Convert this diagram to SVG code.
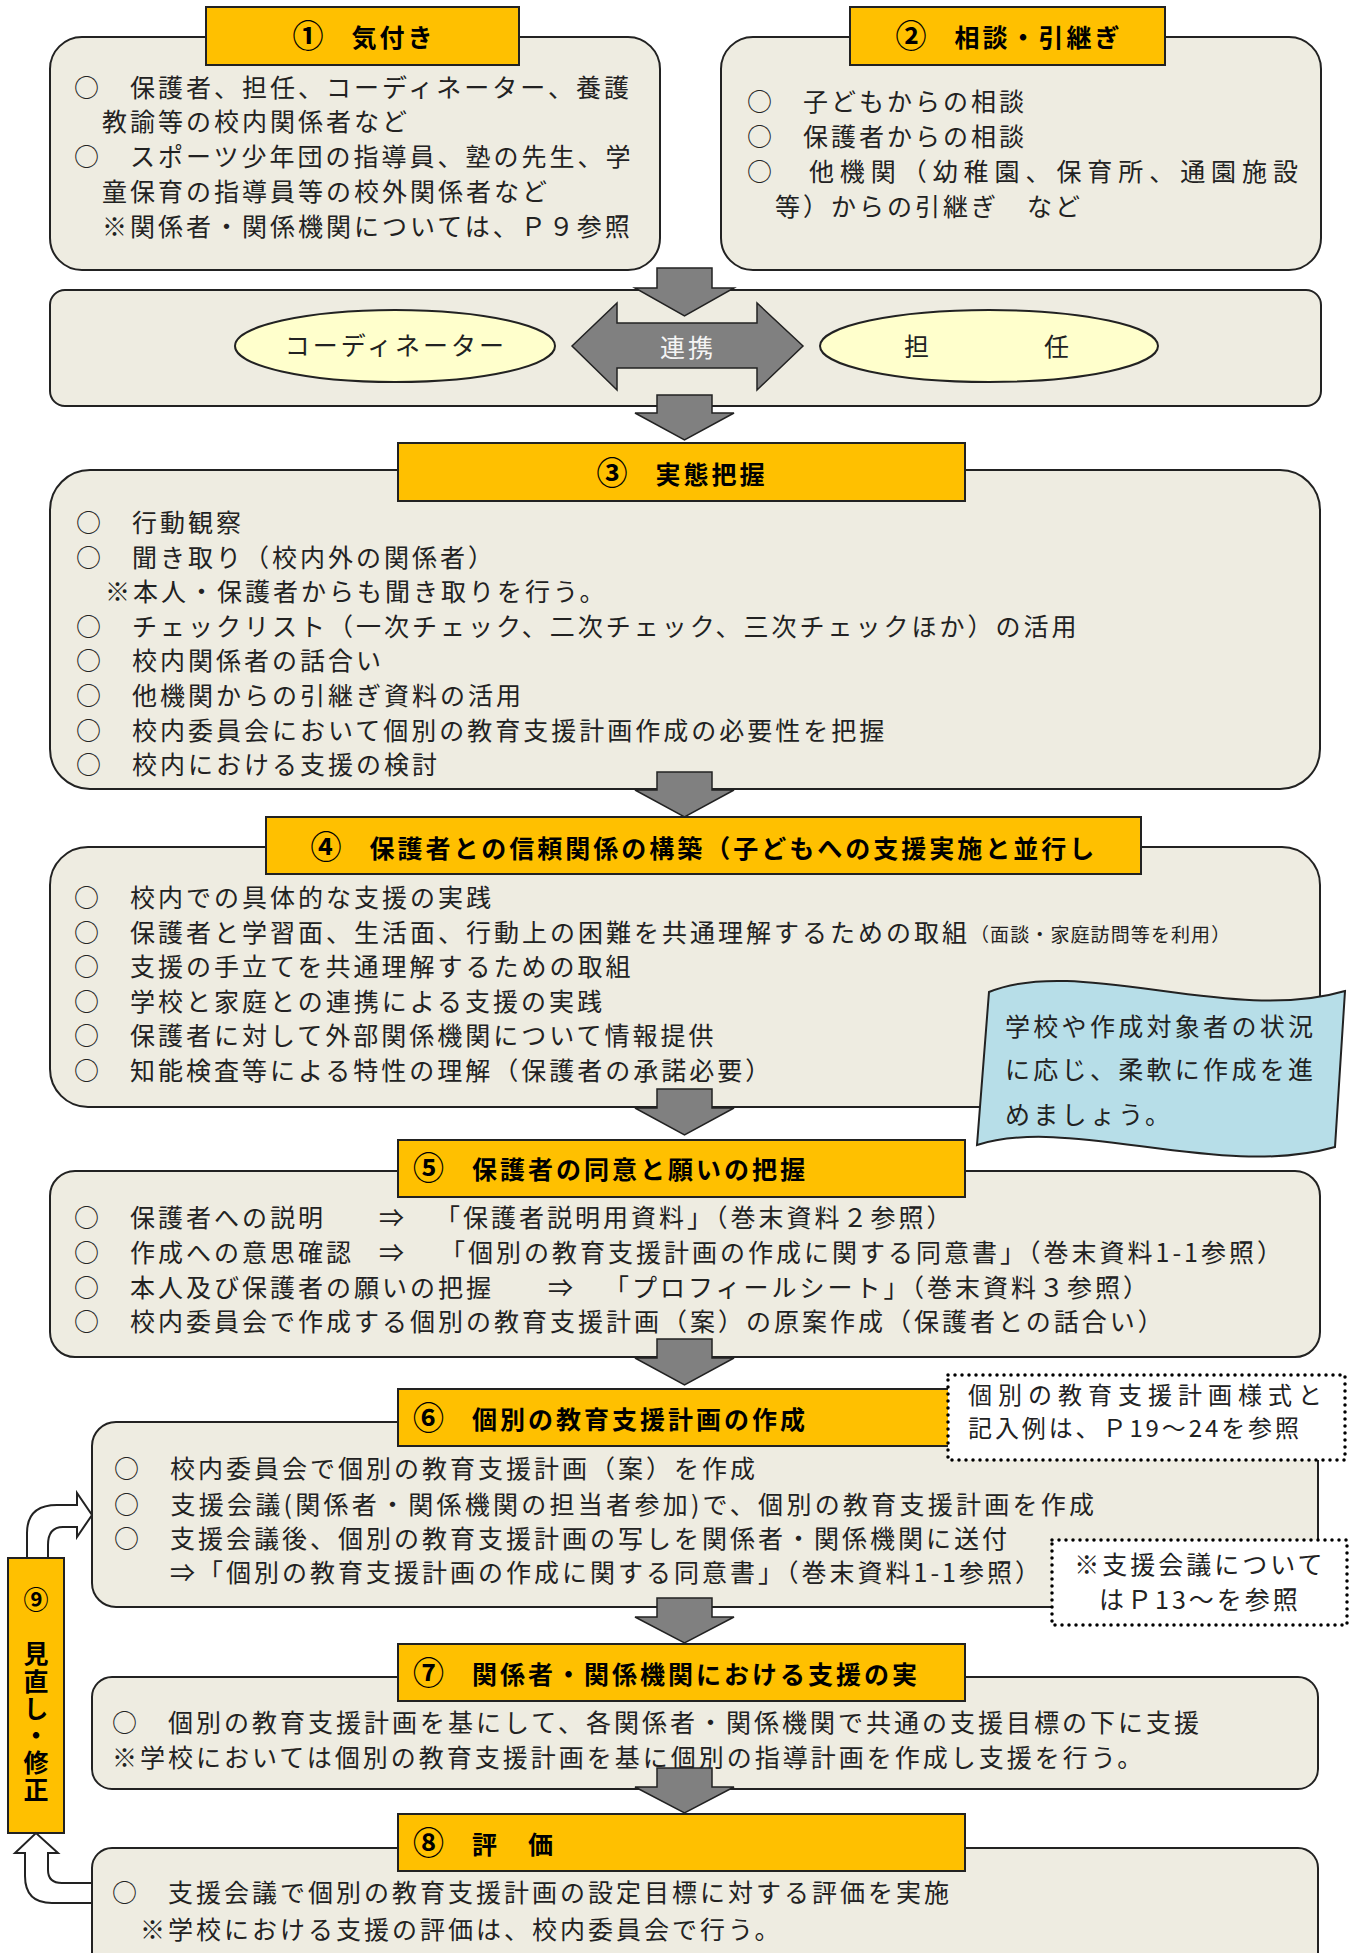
<svg xmlns="http://www.w3.org/2000/svg" width="1355" height="1953" viewBox="0 0 1355 1953">
<style>
.box{fill:#EEECE1;stroke:#222;stroke-width:2}
.title{fill:#FFC000;stroke:#222;stroke-width:2}
.t{font-family:"Noto Sans CJK JP","Noto Sans CJK SC",sans-serif;font-size:25px;letter-spacing:3px;fill:#222}
.s{font-size:19px;letter-spacing:1.1px}
.tt{font-family:"Noto Sans CJK JP","Noto Sans CJK SC",sans-serif;font-size:25px;letter-spacing:3px;font-weight:bold;fill:#000}
.n{font-size:31px;letter-spacing:0}
.mid{text-anchor:middle}
.ell{fill:#FFFFCC;stroke:#222;stroke-width:2}
.arrow{fill:#808080;stroke:#222;stroke-width:1.5}
.bent{fill:#fff;stroke:#222;stroke-width:2}
.dot{fill:#fff;stroke:#000;stroke-width:3.5;stroke-dasharray:0 7;stroke-linecap:round}
.wave{fill:#B7DEE8;stroke:#222;stroke-width:2}
</style>
<rect width="1355" height="1953" fill="#fff"/>

<g id="node-1">
<rect class="box" x="50" y="37" width="610" height="233" rx="32"/>
<rect class="title" x="206" y="7" width="313" height="58"/>
<text class="tt mid" x="364" y="47"><tspan class="n">①</tspan>　気付き</text>
<text class="t" x="74" y="97">○　保護者、担任、コーディネーター、養護</text>
<text class="t" x="102" y="131">教諭等の校内関係者など</text>
<text class="t" x="74" y="166">○　スポーツ少年団の指導員、塾の先生、学</text>
<text class="t" x="102" y="201">童保育の指導員等の校外関係者など</text>
<text class="t" x="102" y="236">※関係者・関係機関については、Ｐ９参照</text>
</g>

<g id="node-2">
<rect class="box" x="721" y="37" width="600" height="233" rx="32"/>
<rect class="title" x="850" y="7" width="315" height="58"/>
<text class="tt mid" x="1009" y="47"><tspan class="n">②</tspan>　相談・引継ぎ</text>
<text class="t" x="747" y="111">○　子どもからの相談</text>
<text class="t" x="747" y="146">○　保護者からの相談</text>
<text class="t" x="747" y="181" textLength="551" style="letter-spacing:0">○　他機関（幼稚園、保育所、通園施設</text>
<text class="t" x="775" y="216">等）からの引継ぎ　など</text>
</g>

<g id="node-coord">
<rect class="box" x="50" y="290" width="1271" height="116" rx="15"/>
<ellipse class="ell" cx="395" cy="346" rx="160" ry="36"/>
<text class="t mid" x="396" y="355">コーディネーター</text>
<ellipse class="ell" cx="989" cy="346" rx="169" ry="36"/>
<text class="t mid" x="988" y="356">担　　　　任</text>
</g>

<g id="node-3">
<rect class="box" x="50" y="470" width="1270" height="319" rx="40"/>
<rect class="title" x="398" y="443" width="567" height="58"/>
<text class="tt mid" x="682" y="484"><tspan class="n">③</tspan>　実態把握</text>
<text class="t" x="76" y="532">○　行動観察</text>
<text class="t" x="76" y="566.6">○　聞き取り（校内外の関係者）</text>
<text class="t" x="105" y="601.2">※本人・保護者からも聞き取りを行う。</text>
<text class="t" x="76" y="635.8">○　チェックリスト（一次チェック、二次チェック、三次チェックほか）の活用</text>
<text class="t" x="76" y="670.4">○　校内関係者の話合い</text>
<text class="t" x="76" y="705">○　他機関からの引継ぎ資料の活用</text>
<text class="t" x="76" y="739.6">○　校内委員会において個別の教育支援計画作成の必要性を把握</text>
<text class="t" x="76" y="774.2">○　校内における支援の検討</text>
</g>

<g id="node-4">
<rect class="box" x="50" y="847" width="1270" height="260" rx="38"/>
<rect class="title" x="266" y="817" width="875" height="57"/>
<text class="tt mid" x="704" y="858"><tspan class="n">④</tspan>　保護者との信頼関係の構築（子どもへの支援実施と並行し</text>
<text class="t" x="74" y="907">○　校内での具体的な支援の実践</text>
<text class="t" x="74" y="941.5">○　保護者と学習面、生活面、行動上の困難を共通理解するための取組<tspan class="s" x="970">（面談・家庭訪問等を利用）</tspan></text>
<text class="t" x="74" y="976">○　支援の手立てを共通理解するための取組</text>
<text class="t" x="74" y="1010.5">○　学校と家庭との連携による支援の実践</text>
<text class="t" x="74" y="1045">○　保護者に対して外部関係機関について情報提供</text>
<text class="t" x="74" y="1079.5">○　知能検査等による特性の理解（保護者の承諾必要）</text>
</g>

<g id="node-note">
<path class="wave" d="M989,992 C1080,955 1230,1025 1345,991 L1335,1147 C1220,1180 1070,1115 977,1145 Z"/>
<text class="t" x="1005" y="1036" style="letter-spacing:3.3px">学校や作成対象者の状況</text>
<text class="t" x="1005" y="1079" style="letter-spacing:3.3px">に応じ、柔軟に作成を進</text>
<text class="t" x="1005" y="1124" style="letter-spacing:3.3px">めましょう。</text>
</g>

<g id="node-5">
<rect class="box" x="50" y="1171" width="1270" height="186" rx="25"/>
<rect class="title" x="398" y="1140" width="567" height="57"/>
<text class="tt" x="413" y="1179"><tspan class="n">⑤</tspan>　保護者の同意と願いの把握</text>
<text class="t" x="74" y="1227">○　保護者への説明</text>
<text class="t mid" x="393" y="1227">⇒</text>
<text class="t" x="435" y="1227">「保護者説明用資料」（巻末資料２参照）</text>
<text class="t" x="74" y="1262">○　作成への意思確認</text>
<text class="t mid" x="393" y="1262">⇒</text>
<text class="t" x="440" y="1262">「個別の教育支援計画の作成に関する同意書」（巻末資料1-1参照）</text>
<text class="t" x="74" y="1297">○　本人及び保護者の願いの把握</text>
<text class="t mid" x="562" y="1297">⇒</text>
<text class="t" x="604" y="1297">「プロフィールシート」（巻末資料３参照）</text>
<text class="t" x="74" y="1331">○　校内委員会で作成する個別の教育支援計画（案）の原案作成（保護者との話合い）</text>
</g>

<g id="node-6">
<rect class="box" x="92" y="1422" width="1226" height="185" rx="24"/>
<rect class="title" x="398" y="1389" width="567" height="57"/>
<text class="tt" x="413" y="1429"><tspan class="n">⑥</tspan>　個別の教育支援計画の作成</text>
<text class="t" x="114" y="1478">○　校内委員会で個別の教育支援計画（案）を作成</text>
<text class="t" x="114" y="1514" textLength="980" style="letter-spacing:0">○　支援会議(関係者・関係機関の担当者参加)で、個別の教育支援計画を作成</text>
<text class="t" x="114" y="1548">○　支援会議後、個別の教育支援計画の写しを関係者・関係機関に送付</text>
<text class="t" x="170" y="1582">⇒「個別の教育支援計画の作成に関する同意書」（巻末資料1-1参照）</text>
</g>

<g id="node-ref1">
<rect class="dot" x="948" y="1375" width="397" height="85"/>
<text class="t" x="968" y="1404" textLength="354" style="letter-spacing:0;font-size:24px">個別の教育支援計画様式と</text>
<text class="t" x="968" y="1437" textLength="331" style="letter-spacing:0;font-size:24px">記入例は、Ｐ19～24を参照</text>
</g>

<g id="node-ref2">
<rect class="dot" x="1052" y="1540" width="295" height="85"/>
<text class="t mid" x="1200" y="1574">※支援会議について</text>
<text class="t mid" x="1200" y="1609">はＰ13～を参照</text>
</g>

<g id="node-7">
<rect class="box" x="92" y="1677" width="1226" height="112" rx="20"/>
<rect class="title" x="398" y="1644" width="567" height="57"/>
<text class="tt" x="413" y="1684"><tspan class="n">⑦</tspan>　関係者・関係機関における支援の実</text>
<text class="t" x="112" y="1732">○　個別の教育支援計画を基にして、各関係者・関係機関で共通の支援目標の下に支援</text>
<text class="t" x="112" y="1767">※学校においては個別の教育支援計画を基に個別の指導計画を作成し支援を行う。</text>
</g>

<g id="node-8">
<rect class="box" x="92" y="1848" width="1226" height="140" rx="20"/>
<rect class="title" x="398" y="1814" width="567" height="57"/>
<text class="tt" x="413" y="1854"><tspan class="n">⑧</tspan>　評　価</text>
<text class="t" x="112" y="1902">○　支援会議で個別の教育支援計画の設定目標に対する評価を実施</text>
<text class="t" x="140" y="1939">※学校における支援の評価は、校内委員会で行う。</text>
</g>

<g id="node-9">
<rect class="title" x="8" y="1558" width="56" height="275"/>
<text class="tt" x="36" y="1587" style="writing-mode:vertical-rl;text-orientation:upright;letter-spacing:2.2px">⑨　見直し・修正</text>
</g>

<g id="connectors">
<path class="arrow" d="M657,268 H712 V288 H734 L684.5,316 L635,288 H657 Z"/>
<path class="arrow" d="M572,346 L617,303 V323 H757 V303 L803,346 L757,390 V368 H617 V390 Z"/>
<text class="t mid" x="688" y="357" style="fill:#f4f4f4">連携</text>
<path class="arrow" d="M657,395 H712 V413 H734 L684.5,440 L635,413 H657 Z"/>
<path class="arrow" d="M657,772 H712 V790 H734 L684.5,817 L635,790 H657 Z"/>
<path class="arrow" d="M657,1089 H712 V1108 H734 L684.5,1135 L635,1108 H657 Z"/>
<path class="arrow" d="M657,1339 H712 V1358 H734 L684.5,1385 L635,1358 H657 Z"/>
<path class="arrow" d="M657,1598 H712 V1617 H734 L684.5,1643 L635,1617 H657 Z"/>
<path class="arrow" d="M657,1768 H712 V1787 H734 L684.5,1813 L635,1787 H657 Z"/>
<path class="bent" d="M27,1558 V1533 Q27,1505 57,1505 H77 V1493 L92,1515 L77,1537 V1527 H63 Q48,1527 48,1545 V1558 Z"/>
<path class="bent" d="M92,1903 H52 Q25,1903 25,1876 V1853 H15 L36,1833 L58,1853 H48 V1870 Q48,1883 62,1883 H92 Z"/>
</g>
</svg>
